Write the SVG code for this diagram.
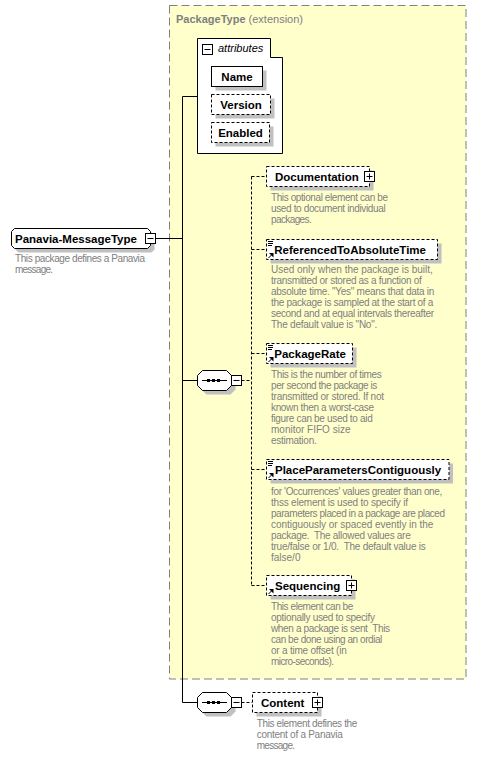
<svg xmlns="http://www.w3.org/2000/svg" width="477" height="757" viewBox="0 0 477 757">
<style>
text{font-family:"Liberation Sans",Arial,sans-serif}
.lbl{font-size:11.5px;font-weight:bold;fill:#000}
.desc{font-size:10px;fill:#808080}
.box{fill:#fff;stroke:#000;stroke-width:1}
.opt{stroke-dasharray:3 2}
.sh{fill:#c0c0c0}
.ico{fill:#fff;stroke:#000;stroke-width:1}
.ln{stroke:#000;stroke-width:1;fill:none}
.dl{stroke:#000;stroke-width:1;fill:none;stroke-dasharray:3 2}
</style>
<defs>
<g id="plus"><rect class="ico" x="-5" y="-5" width="10" height="10"/><path class="ln" d="M-3,0H3M0,-3V3"/></g>
<g id="minus"><rect class="ico" x="-5" y="-5" width="10" height="10"/><path class="ln" d="M-3,0H3"/></g>
<g id="lines"><path class="ln" d="M1.5,2H6.5M1.5,4H6.5M1.5,6H5.5"/></g>
<g id="arrow"><path class="ln" d="M2,-1.5L5.5,-5"/><path d="M2.5,-6.5H7V-2Z" fill="#000"/></g>
<path id="oct" d="M5,0H29L34,5V15L29,20H5L0,15V5Z"/>
</defs>

<g id="extension">
<rect x="169.5" y="5.5" width="296.5" height="673.5" fill="#ffffcc" stroke="#808080" stroke-dasharray="8 4"/>
<text x="176" y="23" font-size="11px" fill="#808080"><tspan font-weight="bold">PackageType</tspan> (extension)</text>
</g>

<g id="connectors">
<path class="ln" d="M155.5,238.5H182.5M182.5,96.5V702.5M182.5,96.5H197.5M182.5,380.5H197.5M182.5,702.5H197.5"/>
<path class="dl" d="M241.5,380.5H251.5M251.5,176.5V585.5M251.5,176.5H266.5M251.5,249.5H266.5M251.5,353.5H266.5M251.5,469.5H266.5M251.5,585.5H266.5M241.5,702.5H252.5"/>
</g>

<g id="attributes">
<path class="box" d="M197.5,38.5H270.5V57.5H282.5V153.5H197.5Z"/>
<use href="#minus" x="207.5" y="49.5"/>
<text x="218" y="52" font-size="11px" font-style="italic" fill="#000">attributes</text>
</g>
<g id="attr-name">
<rect class="sh" x="215.5" y="70.5" width="51" height="20"/>
<rect class="box" x="211.5" y="66.5" width="51" height="20"/>
<text class="lbl" x="237" y="80.5" text-anchor="middle" font-size="11px">Name</text>
</g>
<g id="attr-version">
<rect class="sh" x="215.5" y="98.5" width="59" height="20"/>
<rect class="box opt" x="211.5" y="94.5" width="59" height="20"/>
<text class="lbl" x="241" y="108.5" text-anchor="middle" font-size="11px">Version</text>
</g>
<g id="attr-enabled">
<rect class="sh" x="215.5" y="126.5" width="58" height="20"/>
<rect class="box opt" x="211.5" y="122.5" width="58" height="20"/>
<text class="lbl" x="240.5" y="136.5" text-anchor="middle" font-size="11px">Enabled</text>
</g>

<g id="root">
<path class="sh" d="M18.5,232.5H151.5L154.5,235.5V249.5L151.5,252.5H18.5L15.5,249.5V235.5Z"/>
<path class="box" d="M14.5,228.5H147.5L150.5,231.5V245.5L147.5,248.5H14.5L11.5,245.5V231.5Z"/>
<text class="lbl" x="15" y="242.5">Panavia-MessageType</text>
<use href="#minus" x="150.5" y="238.5"/>
<text class="desc" x="15" y="262" textLength="130">This package defines a Panavia</text>
<text class="desc" x="15" y="273" textLength="38">message.</text>
</g>

<g id="seq1">
<use href="#oct" x="201.5" y="374.5" class="sh"/>
<use href="#oct" x="197.5" y="370.5" class="box"/>
<path class="ln" d="M202,380.5H227"/>
<rect x="207" y="379" width="3" height="3" fill="#000"/>
<rect x="212" y="379" width="3" height="3" fill="#000"/>
<rect x="217" y="379" width="3" height="3" fill="#000"/>
<use href="#minus" x="236.5" y="380.5"/>
</g>

<g id="documentation">
<rect class="sh" x="270.5" y="170.5" width="103" height="20"/>
<rect class="box opt" x="266.5" y="166.5" width="103" height="20"/>
<text class="lbl" x="275" y="180.5">Documentation</text>
<use href="#plus" x="369.5" y="176.5"/>
<text class="desc" x="271" y="201" textLength="117">This optional element can be</text>
<text class="desc" x="271" y="212" textLength="114.7">used to document individual</text>
<text class="desc" x="271" y="223" textLength="40.7">packages.</text>
</g>

<g id="referencedToAbsoluteTime">
<rect class="sh" x="270.5" y="243.5" width="171" height="20"/>
<rect class="box opt" x="266.5" y="239.5" width="171" height="20"/>
<use href="#lines" x="266.5" y="239.5"/>
<use href="#arrow" x="266.5" y="259.5"/>
<text class="lbl" x="274.3" y="253.5">ReferencedToAbsoluteTime</text>
<text class="desc" x="271" y="273" textLength="161.7">Used only when the package is built,</text>
<text class="desc" x="271" y="284" textLength="150.7">transmitted or stored as a function of</text>
<text class="desc" x="271" y="295" textLength="163.3">absolute time. "Yes" means that data in</text>
<text class="desc" x="271" y="306" textLength="162.3">the package is sampled at the start of a</text>
<text class="desc" x="271" y="317" textLength="163">second and at equal intervals thereafter</text>
<text class="desc" x="271" y="328" textLength="106.3">The default value is "No".</text>
</g>

<g id="packageRate">
<rect class="sh" x="270.5" y="347.5" width="86" height="20"/>
<rect class="box opt" x="266.5" y="343.5" width="86" height="20"/>
<use href="#lines" x="266.5" y="343.5"/>
<use href="#arrow" x="266.5" y="363.5"/>
<text class="lbl" x="274.3" y="357.5">PackageRate</text>
<text class="desc" x="271" y="378" textLength="110.7">This is the number of times</text>
<text class="desc" x="271" y="389" textLength="106.3">per second the package is</text>
<text class="desc" x="271" y="400" textLength="113">transmitted or stored. If not</text>
<text class="desc" x="271" y="411" textLength="103">known then a worst-case</text>
<text class="desc" x="271" y="422" textLength="101.7">figure can be used to aid</text>
<text class="desc" x="271" y="433">monitor FIFO size</text>
<text class="desc" x="271" y="444" textLength="45.7">estimation.</text>
</g>

<g id="placeParametersContiguously">
<rect class="sh" x="270.5" y="463.5" width="182.5" height="20"/>
<rect class="box opt" x="266.5" y="459.5" width="182.5" height="20"/>
<use href="#lines" x="266.5" y="459.5"/>
<use href="#arrow" x="266.5" y="479.5"/>
<text class="lbl" x="275" y="473.5">PlaceParametersContiguously</text>
<text class="desc" x="271" y="495" textLength="171.3">for 'Occurrences' values greater than one,</text>
<text class="desc" x="271" y="506" textLength="137">thss element is used to specify if</text>
<text class="desc" x="271" y="517" textLength="174">parameters placed in a package are placed</text>
<text class="desc" x="271" y="528" textLength="162.3">contiguously or spaced evently in the</text>
<text class="desc" x="271" y="539" textLength="139.7" xml:space="preserve">package.  The allowed values are</text>
<text class="desc" x="271" y="550" textLength="154.7" xml:space="preserve">true/false or 1/0.  The default value is</text>
<text class="desc" x="271" y="561">false/0</text>
</g>

<g id="sequencing">
<rect class="sh" x="270.5" y="579.5" width="85" height="20"/>
<rect class="box opt" x="266.5" y="575.5" width="85" height="20"/>
<use href="#arrow" x="266.5" y="595.5"/>
<text class="lbl" x="275" y="589.5">Sequencing</text>
<use href="#plus" x="351.5" y="585.5"/>
<text class="desc" x="271" y="610" textLength="82.3">This element can be</text>
<text class="desc" x="271" y="621" textLength="104">optionally used to specify</text>
<text class="desc" x="271" y="632" textLength="119" xml:space="preserve">when a package is sent  This</text>
<text class="desc" x="271" y="643" textLength="111.3">can be done using an ordial</text>
<text class="desc" x="271" y="654" textLength="75.7">or a time offset (in</text>
<text class="desc" x="271" y="665" textLength="63">micro-seconds).</text>
</g>

<g id="seq2">
<use href="#oct" x="201.5" y="696.5" class="sh"/>
<use href="#oct" x="197.5" y="692.5" class="box"/>
<path class="ln" d="M202,702.5H227"/>
<rect x="207" y="701" width="3" height="3" fill="#000"/>
<rect x="212" y="701" width="3" height="3" fill="#000"/>
<rect x="217" y="701" width="3" height="3" fill="#000"/>
<use href="#minus" x="236.5" y="702.5"/>
</g>

<g id="content">
<rect class="sh" x="256.5" y="696.5" width="65" height="20"/>
<rect class="box opt" x="252.5" y="692.5" width="65" height="20"/>
<text class="lbl" x="261" y="706.5">Content</text>
<use href="#plus" x="317.5" y="702.5"/>
<text class="desc" x="256.7" y="727" textLength="100.6">This element defines the</text>
<text class="desc" x="256.7" y="738" textLength="86">content of a Panavia</text>
<text class="desc" x="256.7" y="749" textLength="38.3">message.</text>
</g>
</svg>
